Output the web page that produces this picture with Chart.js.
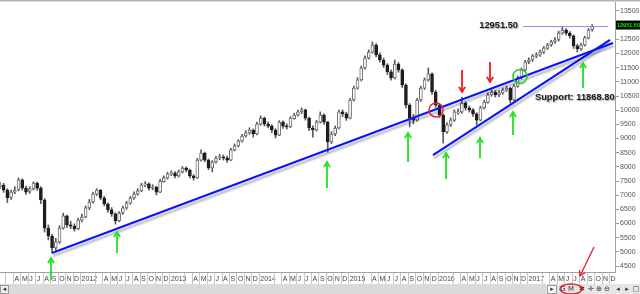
<!DOCTYPE html>
<html>
<head>
<meta charset="utf-8">
<script src="https://cdn.jsdelivr.net/npm/chart.js@4.4.0/dist/chart.umd.min.js"></script>
<style>
  html, body { margin: 0; padding: 0; background: #fff; }
  canvas { display: block; }
</style>
</head>
<body>
<canvas id="chart" width="640" height="294"></canvas>
<script>
// half-monthly candles, Feb 2011 - Sep 2017
// x position = months since Jan 2011
const firstPeriod = 1.25;
const periodStep = 0.5;

const opens = [
  7300,7360,7180,6920,7110,7200,7540,7250,7130,7220,
  7430,7250,6830,5840,5560,5140,5350,5840,6270,5950,
  5910,5810,6120,6230,6550,6760,7040,7180,6900,6690,
  6480,6340,6090,6370,6550,6720,6900,7040,7150,7360,
  7400,7250,7290,7110,7480,7610,7750,7780,7680,7820,
  7960,7890,7680,7610,8240,8490,8240,7960,8170,8330,
  8350,8310,8240,8600,8740,8910,9090,9200,9300,9160,
  9510,9720,9510,9440,9300,9120,9580,9440,9410,9700,
  9830,9940,10010,9720,9370,9300,9580,9830,9580,8880,
  9160,9370,9940,9870,9720,10360,10780,11070,11490,11840,
  12050,12300,11950,11770,11590,11350,11140,11630,11420,10890,
  10180,9720,9650,10360,10780,11070,11280,10640,10180,9830,
  9230,9480,9650,9900,9940,10250,10080,10010,9870,9650,
  10080,10270,10540,10640,10540,10610,10710,10780,10360,10850,
  11140,11420,11700,11790,11910,11950,12050,12190,12300,12410,
  12500,12720,12830,12720,12620,12270,12160,12300,12550,12830
];
const highs = [
  7450,7420,7230,7180,7300,7610,7580,7320,7300,7470,
  7460,7300,6880,5950,5620,5480,5920,6370,6300,6080,
  5990,6180,6330,6620,6850,7110,7230,7200,6960,6730,
  6560,6380,6420,6620,6790,6960,7120,7230,7420,7480,
  7440,7370,7320,7560,7680,7810,7860,7830,7890,8010,
  8000,7920,7720,8300,8600,8520,8280,8220,8370,8440,
  8420,8380,8650,8810,8960,9150,9280,9380,9340,9580,
  9800,9760,9590,9490,9350,9630,9620,9520,9770,9890,
  10000,10080,10040,9760,9450,9640,9940,9870,9610,9240,
  9440,10000,10010,9930,10420,10850,11150,11560,11920,12130,
  12410,12350,12020,11840,11640,11420,11770,11680,11460,10930,
  10230,9850,10420,10850,11140,11490,11320,10700,10230,9870,
  9560,9730,10010,10050,10460,10300,10150,10060,9910,10140,
  10350,10610,10720,10690,10690,10780,10850,10810,10910,11210,
  11490,11760,11850,11970,12030,12120,12250,12360,12470,12560,
  12790,12940,12880,12770,12660,12330,12370,12610,12880,13020
];
const lows = [
  7230,7100,6740,6850,7050,7150,7180,7030,7060,7180,
  7170,6700,5700,5420,4960,5060,5290,5800,5860,5820,
  5730,5780,6060,6200,6490,6720,6990,6840,6620,6400,
  6250,5980,6060,6320,6500,6680,6850,7000,7120,7300,
  7180,7190,7010,7090,7460,7570,7690,7610,7640,7780,
  7820,7610,7530,7590,8200,8180,7900,7820,8130,8250,
  8240,8160,8220,8560,8700,8870,9050,9150,9050,9130,
  9470,9440,9370,9210,9020,9100,9360,9330,9380,9680,
  9790,9880,9650,9280,9050,9260,9540,9500,8520,8820,
  9100,9340,9780,9640,9690,10320,10740,11030,11450,11800,
  12010,11880,11690,11510,11260,11060,11100,11340,10800,10080,
  9410,9520,9610,10310,10730,11020,10560,10100,9740,8840,
  9180,9420,9600,9850,9890,10000,9930,9780,9480,9620,
  10040,10250,10490,10460,10480,10560,10660,10250,10320,10810,
  11100,11380,11640,11720,11850,11900,12000,12140,12250,12360,
  12440,12680,12650,12540,12180,12050,12110,12260,12510,12790
];
const closes = [
  7360,7180,6900,7110,7180,7540,7250,7110,7220,7430,
  7250,6830,5840,5560,5140,5350,5840,6270,5950,5910,
  5810,6120,6230,6550,6760,7040,7180,6900,6690,6480,
  6340,6090,6370,6550,6720,6900,7040,7150,7360,7400,
  7250,7290,7110,7500,7610,7750,7780,7680,7820,7960,
  7890,7680,7610,8240,8490,8240,7960,8170,8310,8350,
  8310,8240,8600,8740,8910,9090,9200,9300,9160,9510,
  9720,9510,9440,9300,9120,9580,9440,9410,9720,9830,
  9940,10010,9720,9370,9300,9580,9830,9580,8880,9160,
  9370,9940,9870,9720,10360,10780,11070,11490,11840,12050,
  12300,11950,11770,11590,11350,11140,11630,11420,10890,10180,
  9720,9650,10360,10780,11070,11280,10640,10180,9830,9230,
  9480,9650,9940,9940,10250,10080,10010,9870,9650,10080,
  10290,10540,10640,10540,10610,10710,10780,10360,10850,11140,
  11420,11700,11770,11910,11950,12050,12190,12300,12410,12480,
  12720,12830,12720,12620,12270,12160,12300,12550,12830,12951.5
];

const priceTicks = [4500,5000,5500,6000,6500,7000,7500,8000,8500,9000,
                    9500,10000,10500,11000,11500,12000,12500,13000,13500];
// Jan shows the year; Feb and Mar are hidden behind it
const monthLetters = ['', '', '', 'A', 'M', 'J', 'J', 'A', 'S', 'O', 'N', 'D'];
const firstYear = 2011;

// drawn trend lines (months, price)
const trendLong = [{x: 8.24, y: 4960}, {x: 83.54, y: 12371}];
const trendShort = [{x: 59.38, y: 8418}, {x: 83.14, y: 12477}];
const lastPrice = 12951.50;
const lastLineSpan = [71.46, 82.87];
const supportLevel = 11868.80;
const supportLabelAt = [73.07, 10465];

// markers: [month, tail price, head price]
const greenArrows = [
  [8.11, 4006, 4782], [16.97, 4959, 5700], [45.15, 7253, 8171], [56.03, 8171, 9194],
  [61.13, 7571, 8488], [65.69, 8312, 9018], [70.12, 9124, 9935], [79.52, 10782, 11665]
];
const redArrows = [[63.28, 11418, 10641], [67.03, 11700, 10994]];
const redCircle = [59.79, 10006];
const greenCircle = [71.06, 11188];

const xs = closes.map((c, i) => firstPeriod + periodStep * i);
const bodyFill = closes.map((c, i) => c >= opens[i] ? '#ffffff' : '#1e1e1e');
const bodyEdge = closes.map((c, i) => c >= opens[i] ? '#6a6a6a' : '#1e1e1e');

Chart.defaults.font.family = '"Liberation Sans", Arial, sans-serif';

// grey drop shadow under the hand drawn lines
const lineShadow = {
  id: 'lineShadow',
  beforeDatasetDraw(chart, args) {
    if (!chart.data.datasets[args.index].shadow) return;
    const ctx = chart.ctx;
    ctx.save();
    ctx.shadowColor = 'rgba(0,0,0,0.3)';
    ctx.shadowBlur = 2;
    ctx.shadowOffsetX = 1;
    ctx.shadowOffsetY = 3;
  },
  afterDatasetDraw(chart, args) {
    if (chart.data.datasets[args.index].shadow) chart.ctx.restore();
  }
};

function arrow(ctx, x1, y1, x2, y2, color, w) {
  const a = Math.atan2(y2 - y1, x2 - x1);
  ctx.strokeStyle = color;
  ctx.lineWidth = w;
  ctx.beginPath();
  ctx.moveTo(x1, y1);
  ctx.lineTo(x2, y2);
  ctx.stroke();
  ctx.beginPath();
  ctx.moveTo(x2 - 6 * Math.cos(a - 0.55), y2 - 6 * Math.sin(a - 0.55));
  ctx.lineTo(x2, y2);
  ctx.lineTo(x2 - 6 * Math.cos(a + 0.55), y2 - 6 * Math.sin(a + 0.55));
  ctx.stroke();
}

const overlay = {
  id: 'overlay',
  beforeDraw(chart) {
    const ctx = chart.ctx;
    ctx.save();
    ctx.fillStyle = '#fff';
    ctx.fillRect(0, 0, chart.width, chart.height);
    ctx.restore();
  },
  afterDraw(chart) {
    const ctx = chart.ctx;
    const xS = chart.scales.x, yS = chart.scales.y;
    const px = m => xS.getPixelForValue(m);
    const py = v => yS.getPixelForValue(v);
    ctx.save();

    // top frame line
    ctx.fillStyle = '#b4b4b4';
    ctx.fillRect(0, 0, chart.width, 1.5);

    // month boxes in the date strip
    ctx.strokeStyle = '#c8c8c8';
    ctx.lineWidth = 1;
    xS.ticks.forEach(t => {
      if (Math.round(t.value) % 12 === 1) return;
      const xx = Math.round(px(t.value)) + 0.5;
      ctx.beginPath();
      ctx.moveTo(xx, xS.top + 1);
      ctx.lineTo(xx, xS.top + 12);
      ctx.stroke();
    });

    // scroll bar + toolbar
    const barTop = xS.top + 12;
    ctx.fillStyle = '#dadada';
    ctx.fillRect(0, barTop, chart.width, chart.height - barTop);
    ctx.fillStyle = '#eeeeee';
    ctx.fillRect(0.5, barTop + 1.5, 8, 8);
    ctx.strokeStyle = '#999';
    ctx.strokeRect(0.5, barTop + 1.5, 8, 8);
    ctx.fillStyle = '#e6e6e6';
    ctx.fillRect(546, barTop, chart.width - 546, chart.height - barTop);
    ctx.fillStyle = '#fafafa';
    ctx.fillRect(547.5, barTop + 1.5, 9, 8);
    ctx.strokeRect(547.5, barTop + 1.5, 9, 8);
    ctx.fillStyle = '#333';
    ctx.font = '7px "DejaVu Sans", sans-serif';
    ctx.textAlign = 'center';
    ctx.textBaseline = 'middle';
    const tools = [[4.5, '◂'], [552, '▸'], [563, 'G'], [571, 'M'], [582, '✱'], [591, '✛'],
                   [599, '⊕'], [607, '⊖'], [618, '◂'], [627, '▸'], [636, '□']];
    tools.forEach(([tx, s]) => ctx.fillText(s, tx, barTop + 5.5));

    // last price tag on the axis
    const ly = py(lastPrice);
    ctx.fillStyle = '#000';
    ctx.fillRect(yS.left + 1, ly - 6, chart.width - yS.left - 1, 9);
    ctx.fillStyle = '#00ff00';
    ctx.font = 'bold 5.5px "Liberation Sans", Arial, sans-serif';
    ctx.textAlign = 'left';
    ctx.fillText(lastPrice.toFixed(2), yS.left + 2, ly - 1.5);

    // annotation texts
    ctx.shadowColor = 'rgba(0,0,0,0.35)';
    ctx.shadowOffsetX = 1;
    ctx.shadowOffsetY = 1;
    ctx.shadowBlur = 1;
    ctx.fillStyle = '#1a1a1a';
    ctx.font = 'bold 9.3px "Liberation Sans", Arial, sans-serif';
    ctx.textAlign = 'right';
    ctx.fillText(lastPrice.toFixed(2), px(lastLineSpan[0]) - 5, ly - 1.5);
    ctx.textAlign = 'left';
    ctx.fillText('Support: ' + supportLevel.toFixed(2), px(supportLabelAt[0]), py(supportLabelAt[1]));
    ctx.shadowColor = 'transparent';

    // arrows and circles
    greenArrows.forEach(([m, a, b]) => arrow(ctx, px(m), py(a), px(m), py(b), '#22e022', 1.8));
    redArrows.forEach(([m, a, b]) => arrow(ctx, px(m), py(a), px(m), py(b), '#ee1c1c', 1.8));
    ctx.lineWidth = 1.5;
    ctx.strokeStyle = '#ee2222';
    ctx.beginPath();
    ctx.arc(px(redCircle[0]), py(redCircle[1]), 7, 0, Math.PI * 2);
    ctx.stroke();
    ctx.strokeStyle = '#22cc22';
    ctx.beginPath();
    ctx.arc(px(greenCircle[0]), py(greenCircle[1]), 7, 0, Math.PI * 2);
    ctx.stroke();

    // toolbar hint
    ctx.strokeStyle = '#ee1c1c';
    ctx.lineWidth = 1.3;
    ctx.beginPath();
    ctx.ellipse(571, barTop + 5, 11, 5, 0, 0, Math.PI * 2);
    ctx.stroke();
    arrow(ctx, 594, 247, 580, 276, '#ee1c1c', 1.3);

    ctx.restore();
  }
};

new Chart(document.getElementById('chart'), {
  type: 'bar',
  data: {
    datasets: [
      {
        type: 'line', data: trendLong, borderColor: '#0a14ff', borderWidth: 2.1,
        pointRadius: 0, shadow: true, order: 0
      },
      {
        type: 'line', data: trendShort, borderColor: '#0a14ff', borderWidth: 2.1,
        pointRadius: 0, shadow: true, order: 0
      },
      {
        type: 'line', data: lastLineSpan.map(m => ({x: m, y: lastPrice})),
        borderColor: '#8e8ee6', borderWidth: 1, pointRadius: 0, order: 0
      },
      {
        label: 'body', data: xs.map((x, i) => ({x: x, y: [opens[i], closes[i]]})),
        backgroundColor: bodyFill, borderColor: bodyEdge, borderWidth: 1,
        borderSkipped: false, barThickness: 3, grouped: false, minBarLength: 1, order: 1
      },
      {
        label: 'wick', data: xs.map((x, i) => ({x: x, y: [lows[i], highs[i]]})),
        backgroundColor: '#5a5a5a', barThickness: 1, grouped: false, order: 2
      }
    ]
  },
  options: {
    responsive: false,
    animation: false,
    layout: { padding: { top: 2, left: 0, right: 0, bottom: 0 } },
    plugins: { legend: { display: false }, tooltip: { enabled: false } },
    scales: {
      x: {
        type: 'linear', offset: false, min: 1.262, max: 83.81,
        afterBuildTicks: s => {
          s.ticks = [];
          for (let k = Math.ceil(s.min); k <= s.max; k++) s.ticks.push({value: k});
        },
        afterFit: s => { s.height = 22; s.paddingLeft = 0; s.paddingRight = 0; },
        ticks: {
          autoSkip: false, maxRotation: 0, align: 'start', labelOffset: 1.5, padding: 3,
          font: { size: 7 }, color: '#444',
          callback: v => {
            const k = Math.round(v);
            return k % 12 === 0 ? String(firstYear + k / 12) : monthLetters[k % 12];
          }
        },
        grid: { drawOnChartArea: false, drawTicks: false },
        border: { display: true, color: '#a0a0a0' }
      },
      y: {
        type: 'linear', position: 'right', min: 4289.3, max: 13817.6,
        afterBuildTicks: s => { s.ticks = priceTicks.map(v => ({value: v})); },
        afterFit: s => { s.width = 25; s.paddingTop = 0; s.paddingBottom = 0; },
        ticks: { padding: 1, font: { size: 7 }, color: '#555', callback: v => String(v) },
        grid: { drawOnChartArea: false, drawTicks: true, tickLength: 4, color: '#999' },
        border: { display: true, color: '#a0a0a0' }
      }
    }
  },
  plugins: [lineShadow, overlay]
});
</script>
</body>
</html>
